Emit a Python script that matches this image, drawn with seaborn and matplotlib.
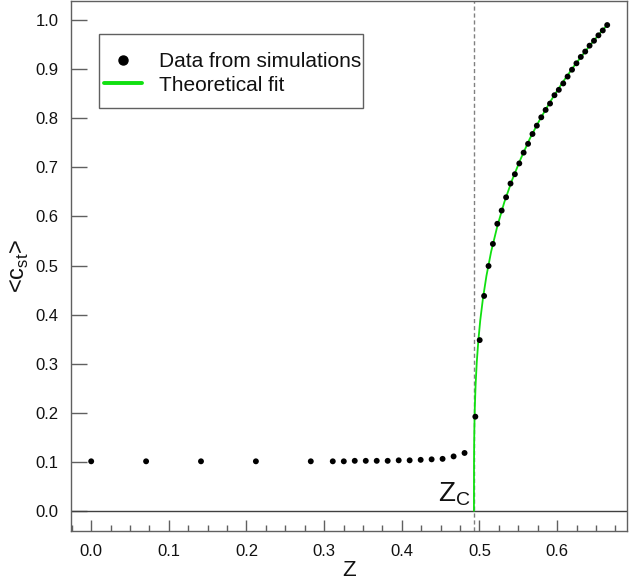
import matplotlib
matplotlib.use("Agg")
import matplotlib.pyplot as plt
from matplotlib.patches import Rectangle
from matplotlib.lines import Line2D
from matplotlib.ticker import MultipleLocator
import seaborn as sns
import pandas as pd

# simulation data
sim_z = [0.0, 0.0707, 0.1414, 0.2121, 0.2828, 0.3111, 0.3253, 0.3394, 0.3536,
         0.3677, 0.3818, 0.3960, 0.4101, 0.4243, 0.4384, 0.4525, 0.4667, 0.4808,
         0.4947, 0.5003, 0.5060, 0.5117, 0.5173, 0.5230, 0.5286, 0.5343, 0.5400,
         0.5456, 0.5513, 0.5569, 0.5626, 0.5683, 0.5739, 0.5796, 0.5852, 0.5909,
         0.5966, 0.6022, 0.6079, 0.6135, 0.6192, 0.6249, 0.6305, 0.6362, 0.6418,
         0.6475, 0.6532, 0.6588, 0.6645]
sim_c = [0.101, 0.101, 0.101, 0.101, 0.101, 0.101, 0.101, 0.102, 0.102,
         0.102, 0.102, 0.103, 0.103, 0.104, 0.105, 0.106, 0.111, 0.118,
         0.192, 0.348, 0.438, 0.499, 0.544, 0.585, 0.612, 0.639, 0.667,
         0.686, 0.708, 0.730, 0.748, 0.768, 0.785, 0.802, 0.817, 0.830,
         0.847, 0.858, 0.871, 0.885, 0.899, 0.912, 0.925, 0.936, 0.948,
         0.958, 0.969, 0.979, 0.990]

# theoretical fit curve
fit_z = [0.4929, 0.4930, 0.4932, 0.4935, 0.4940, 0.4950, 0.4965, 0.4985, 0.5010,
         0.5045, 0.5090, 0.5150, 0.5230, 0.5320, 0.5420, 0.5530, 0.5650, 0.5780,
         0.5920, 0.6070, 0.6230, 0.6400, 0.6560, 0.6650]
fit_c = [0.000, 0.100, 0.141, 0.174, 0.210, 0.256, 0.302, 0.346, 0.388,
         0.433, 0.479, 0.528, 0.580, 0.629, 0.674, 0.717, 0.759, 0.798,
         0.836, 0.873, 0.909, 0.944, 0.975, 0.991]

z_c = 0.4929

x_ticks = [0.0, 0.1, 0.2, 0.3, 0.4, 0.5, 0.6]
y_ticks = [0.0, 0.1, 0.2, 0.3, 0.4, 0.5, 0.6, 0.7, 0.8, 0.9, 1.0]

sns.set_theme(style="white")
plt.rcParams['font.family'] = ['Liberation Sans', 'DejaVu Sans']
plt.rcParams['mathtext.fontset'] = 'custom'
plt.rcParams['mathtext.rm'] = 'Liberation Sans'

green = '#10e010'
spine_col = '#606060'
txt_col = '#111111'

df_sim = pd.DataFrame({"z": sim_z, "c": sim_c})
df_fit = pd.DataFrame({"z": fit_z, "c": fit_c})

fig = plt.figure(figsize=(6.29, 5.81), dpi=100)
ax = fig.add_axes([71 / 629, 50 / 581, 556 / 629, 530 / 581])

ax.axvline(z_c, color='#808080', lw=1, dashes=(3, 2), zorder=1)
ax.axhline(0, color='#404040', lw=1, zorder=1)
sns.lineplot(data=df_fit, x="z", y="c", ax=ax, color=green, lw=1.3,
             sort=False, estimator=None, zorder=2)
sns.scatterplot(data=df_sim, x="z", y="c", ax=ax, color='black', s=18,
                edgecolor='none', zorder=3)

ax.set_xlim(-0.026, 0.690)
ax.set_ylim(-0.041, 1.039)
ax.set_xticks(x_ticks)
ax.set_yticks(y_ticks)
ax.set_xticklabels([f"{t:.1f}" for t in x_ticks])
ax.set_yticklabels([f"{t:.1f}" for t in y_ticks])
ax.xaxis.set_minor_locator(MultipleLocator(0.025))

ax.tick_params(axis='x', which='major', direction='in', length=8, width=1,
               color=spine_col, labelsize=12, labelcolor=txt_col, pad=9, bottom=True)
ax.tick_params(axis='x', which='minor', direction='in', length=4, width=1,
               color=spine_col, bottom=True)
ax.tick_params(axis='y', which='major', direction='in', length=11.5, width=1,
               color=spine_col, labelsize=12, labelcolor=txt_col, pad=9, left=True)

for sp in ax.spines.values():
    sp.set_color(spine_col)
    sp.set_linewidth(1)

ax.set_xlabel("Z", fontsize=16, color=txt_col, labelpad=1)
ax.set_ylabel("<c$_\\mathregular{st}$>", fontsize=17, color=txt_col, labelpad=3)

ax.text(0.488, 0.02, "$\\mathregular{Z_C}$", fontsize=20, color=txt_col,
        ha='right', va='baseline')

# legend with a separate frame
ax.add_patch(Rectangle((28 / 556, (531 - 108) / 530), 264 / 556, 74 / 530,
                       transform=ax.transAxes, fill=True, facecolor='white',
                       edgecolor=spine_col, lw=1, zorder=4))
handles = [Line2D([], [], marker='o', color='black', ls='none', markersize=6.5),
           Line2D([], [], color=green, lw=2.8)]
leg = ax.legend(handles, ["Data from simulations", "Theoretical fit"],
                loc='upper left', bbox_to_anchor=(33 / 556, (531 - 52) / 530),
                frameon=False, fontsize=15, borderpad=0, borderaxespad=0,
                handlelength=1.8, handletextpad=0.85, labelspacing=0.22)
leg.set_zorder(5)
for t in leg.get_texts():
    t.set_color(txt_col)

fig.savefig("out.png", dpi=100)
plt.close(fig)
